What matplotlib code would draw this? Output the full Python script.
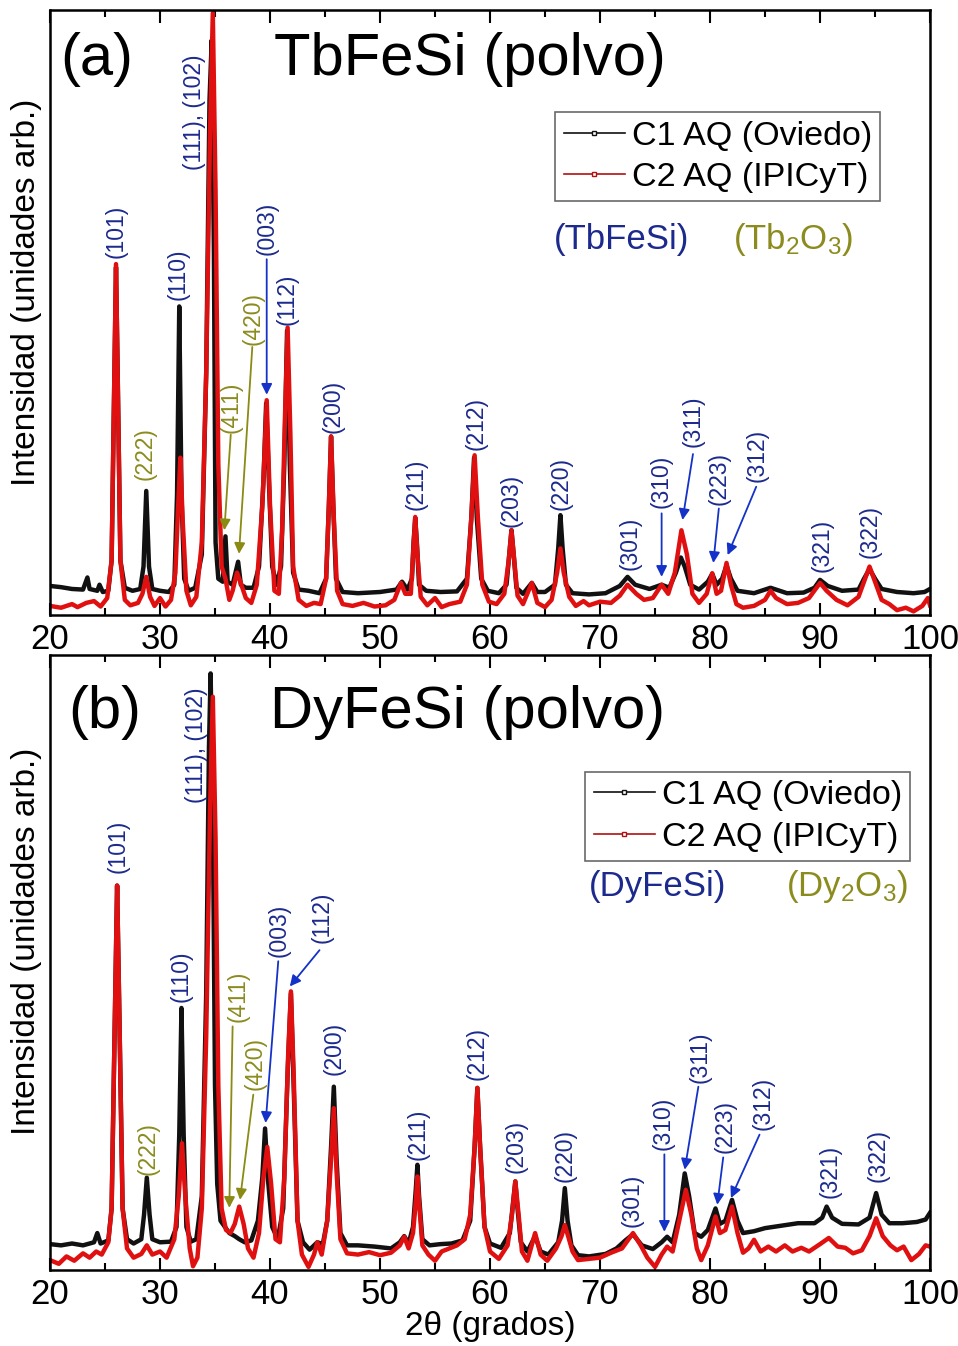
import matplotlib
matplotlib.use('Agg')
import matplotlib.pyplot as plt
from matplotlib.lines import Line2D
from matplotlib.ticker import MultipleLocator
import numpy as np

plt.rcParams['font.family'] = ['Liberation Sans', 'DejaVu Sans']
plt.rcParams['mathtext.fontset'] = 'custom'
plt.rcParams['mathtext.rm'] = 'Liberation Sans'
plt.rcParams['mathtext.it'] = 'Liberation Sans:italic'

# TbFeSi, muestra C1 AQ (Oviedo)
tb_c1 = [(20, 4.8), (21, 4.6), (22, 4.3), (23, 4.2), (23.4, 6.2), (23.6, 4.3), (24.3, 4.0), (24.5, 5.0),
         (24.8, 3.8), (25.3, 4.0), (25.6, 9), (25.85, 40), (26.0, 57.5), (26.15, 40), (26.4, 9), (26.8, 4.5),
         (27.5, 4.0), (28.2, 4.3), (28.5, 8), (28.75, 20.5), (29.0, 8), (29.3, 4.3), (30.0, 4.0), (30.8, 3.8),
         (31.3, 5), (31.55, 20), (31.75, 51), (31.95, 20), (32.2, 6), (32.6, 4), (33.2, 4.5), (33.8, 10),
         (34.2, 40), (34.5, 85), (34.7, 95), (34.9, 60), (35.05, 12), (35.3, 6), (35.7, 5.5), (35.95, 13),
         (36.15, 5.5), (36.6, 5), (37.1, 8.8), (37.35, 5), (37.8, 4.5), (38.5, 4.5), (39.0, 8), (39.4, 22),
         (39.65, 35), (39.9, 22), (40.2, 8), (40.6, 5), (41.0, 8), (41.3, 25), (41.55, 47), (41.8, 25),
         (42.1, 7), (42.6, 4.2), (43.5, 4.0), (44.5, 3.6), (45.1, 6), (45.35, 18), (45.55, 29.5), (45.75, 18),
         (46.0, 6), (46.6, 3.8), (48, 3.6), (50, 3.8), (51.5, 4.2), (52.0, 5.5), (52.5, 4.2), (52.9, 6),
         (53.05, 12), (53.2, 16), (53.35, 12), (53.55, 5), (54.2, 4.0), (55.5, 3.8), (57.0, 3.9), (57.9, 6),
         (58.3, 16), (58.55, 26), (58.8, 16), (59.2, 6), (59.8, 4.0), (60.8, 3.6), (61.5, 5), (61.75, 10),
         (61.95, 14), (62.15, 10), (62.4, 4.5), (63.0, 3.5), (63.8, 5.3), (64.3, 3.8), (65.0, 3.8), (65.9, 5),
         (66.2, 11), (66.4, 16.5), (66.6, 11), (66.9, 5), (67.5, 3.6), (69.0, 3.4), (70.5, 3.6), (71.8, 4.8),
         (72.5, 6.3), (73.2, 5.0), (74.5, 4.3), (75.6, 5.0), (76.3, 4.5), (76.9, 7), (77.35, 9.5), (77.7, 8),
         (78.2, 5), (79.0, 4.2), (79.8, 5.5), (80.2, 6.8), (80.6, 5.0), (81.1, 6), (81.5, 8.2), (81.9, 6),
         (82.5, 4.0), (84.0, 3.6), (85.5, 4.5), (87.0, 3.6), (88.5, 3.7), (89.5, 4.5), (90.0, 5.8), (90.7, 4.8),
         (92.0, 4.0), (93.5, 4.2), (94.0, 6), (94.5, 7.6), (95.0, 6), (95.6, 4.3), (97.0, 3.8), (98.5, 3.6),
         (99.5, 3.8), (100, 4.3)]

# TbFeSi, muestra C2 AQ (IPICyT)
tb_c2 = [(20, 1.5), (21, 1.2), (22, 1.8), (22.5, 1.3), (23.3, 2.0), (24.0, 2.3), (24.6, 1.4), (25.2, 2.8),
         (25.6, 9), (25.85, 40), (26.0, 58), (26.15, 40), (26.4, 9), (26.8, 2.5), (27.3, 1.6), (28.0, 2.0),
         (28.4, 3.5), (28.75, 6.3), (29.1, 3.0), (29.5, 1.5), (30.0, 2.8), (30.5, 1.4), (31.0, 2.5), (31.4, 7),
         (31.65, 18), (31.85, 26), (32.05, 16), (32.4, 4), (32.8, 1.6), (33.3, 3), (33.8, 12), (34.2, 40),
         (34.55, 80), (34.8, 99.5), (35.05, 70), (35.3, 25), (35.6, 8), (35.95, 6), (36.3, 2.5), (36.6, 4),
         (37.0, 7), (37.3, 5.5), (37.8, 2.8), (38.3, 2.0), (38.8, 5), (39.3, 18), (39.7, 35.5), (40.0, 18),
         (40.4, 4), (40.8, 3.5), (41.1, 14), (41.35, 32), (41.6, 47.5), (41.85, 30), (42.1, 8), (42.6, 2.5),
         (43.3, 1.5), (44.0, 2.0), (44.6, 1.8), (45.1, 6), (45.35, 18), (45.55, 29.5), (45.8, 16), (46.1, 4),
         (46.6, 1.8), (47.5, 1.5), (48.5, 2.0), (49.5, 1.4), (50.5, 1.6), (51.3, 2.5), (51.9, 5.3), (52.3, 3.5),
         (52.8, 3.5), (53.0, 10), (53.2, 16.2), (53.4, 10), (53.7, 3), (54.3, 1.6), (55.0, 2.8), (55.6, 1.3),
         (56.3, 1.8), (57.3, 2.2), (57.9, 5), (58.3, 16), (58.6, 26.4), (58.9, 16), (59.3, 5), (59.9, 2.2),
         (60.6, 1.8), (61.3, 3.5), (61.7, 9), (61.95, 14), (62.2, 9), (62.5, 3.2), (63.0, 1.8), (63.8, 5.3),
         (64.3, 2.0), (65.0, 1.3), (65.6, 2.5), (66.1, 7), (66.4, 11), (66.7, 7), (67.2, 3.0), (67.8, 1.5),
         (68.5, 2.3), (69.0, 1.6), (70.0, 2.2), (71.0, 2.0), (71.8, 3.2), (72.5, 5.0), (73.3, 3.5), (74.0, 2.5),
         (74.8, 2.8), (75.6, 5.0), (76.2, 3.5), (76.8, 7), (77.4, 14), (77.9, 10), (78.4, 3.5), (79.0, 2.0),
         (79.7, 3.5), (80.2, 6.9), (80.6, 3.5), (81.0, 4.0), (81.5, 8.6), (81.9, 5), (82.4, 1.8), (83.0, 1.2),
         (84.0, 1.5), (85.0, 2.5), (85.5, 4.0), (86.0, 2.8), (87.0, 1.8), (88.0, 2.0), (89.0, 2.8), (90.0, 5.3),
         (90.6, 4.0), (91.5, 2.5), (92.5, 1.6), (93.5, 3.0), (94.0, 5.5), (94.5, 8.0), (95.0, 5.5), (95.6, 2.5),
         (96.3, 1.8), (97.0, 0.8), (97.8, 1.2), (98.5, 0.6), (99.3, 1.5), (99.8, 2.8), (100, 1.6)]

# DyFeSi, muestra C1 AQ (Oviedo)
dy_c1 = [(20, 4.2), (21, 4.0), (22, 4.3), (23, 4.0), (24, 4.5), (24.3, 6), (24.6, 4.3), (25.3, 4.8),
         (25.6, 10), (25.9, 42), (26.1, 62.5), (26.3, 42), (26.6, 10), (27.0, 5), (27.6, 4.3), (28.3, 5),
         (28.55, 9), (28.8, 15), (29.05, 9), (29.3, 5), (30.0, 4.5), (31.0, 4.6), (31.5, 7), (31.75, 22),
         (31.95, 42.6), (32.15, 22), (32.4, 7), (32.8, 4.6), (33.3, 5), (33.8, 12), (34.2, 45), (34.45, 85),
         (34.6, 97), (34.8, 75), (35.0, 30), (35.2, 14), (35.5, 8), (35.9, 7), (36.3, 6.0), (36.8, 5.5),
         (37.2, 5.0), (37.7, 4.5), (38.3, 4.8), (38.9, 8), (39.3, 15), (39.55, 23), (39.8, 15), (40.2, 7),
         (40.7, 5.0), (41.2, 10), (41.6, 32), (41.9, 45), (42.15, 30), (42.5, 8), (43.0, 4.5), (43.6, 3.3),
         (44.3, 4.5), (44.8, 4.2), (45.2, 8), (45.55, 20), (45.8, 29.8), (46.05, 18), (46.4, 6), (47.0, 4.0),
         (48.0, 4.0), (49.5, 3.8), (51.0, 3.5), (51.8, 4.5), (52.2, 5.5), (52.6, 4.3), (53.0, 7), (53.25, 13),
         (53.4, 17.1), (53.55, 12), (53.85, 5), (54.5, 4.0), (55.5, 4.2), (56.5, 4.3), (57.5, 4.8), (58.2, 8),
         (58.6, 20), (58.85, 29.6), (59.1, 20), (59.5, 7), (60.0, 4.3), (61.0, 3.6), (61.8, 6), (62.1, 11),
         (62.3, 14.4), (62.5, 10), (62.8, 4.5), (63.4, 3.0), (64.1, 5.5), (64.6, 3.0), (65.3, 2.5), (66.2, 4.5),
         (66.55, 8), (66.8, 13.3), (67.05, 8), (67.4, 4), (68.0, 2.4), (69.0, 2.2), (70.5, 2.6), (71.5, 3.5),
         (72.3, 4.8), (73.0, 5.8), (73.8, 4.0), (74.8, 3.4), (75.6, 4.5), (76.1, 5.4), (76.6, 4.5), (77.2, 9),
         (77.7, 15.7), (78.1, 12), (78.6, 6), (79.2, 5.4), (79.8, 6.5), (80.5, 10), (80.9, 7.5), (81.4, 8),
         (82.0, 11.4), (82.5, 8), (83.0, 6.0), (84.0, 6.3), (85.0, 6.8), (86.5, 7.2), (88.0, 7.6), (89.5, 7.6),
         (90.2, 8.5), (90.6, 10.3), (91.1, 8.5), (92.0, 7.5), (93.5, 7.4), (94.5, 8.5), (95.1, 12.5), (95.6, 9),
         (96.3, 7.6), (97.5, 7.6), (98.8, 7.8), (99.6, 8.2), (100, 9.3)]

# DyFeSi, muestra C2 AQ (IPICyT)
dy_c2 = [(20, 1.6), (20.8, 1.0), (21.5, 2.2), (22.2, 1.5), (23.0, 2.7), (23.6, 2.0), (24.2, 3.0), (24.7, 2.5),
         (25.3, 4.5), (25.6, 10), (25.9, 42), (26.1, 62.5), (26.3, 42), (26.6, 10), (27.0, 3.5), (27.6, 2.0),
         (28.3, 2.6), (28.8, 4.0), (29.3, 2.5), (30.0, 3.0), (30.6, 2.0), (31.3, 5), (31.7, 12), (32.0, 20.6),
         (32.3, 12), (32.7, 3.5), (33.0, 0.6), (33.4, 2.0), (33.8, 10), (34.2, 38), (34.55, 75), (34.8, 93.2),
         (35.05, 70), (35.3, 30), (35.6, 10), (36.0, 6.5), (36.4, 6.0), (36.8, 7.5), (37.2, 10.3), (37.6, 7.5),
         (38.0, 3.5), (38.5, 2.0), (39.0, 6), (39.4, 15), (39.75, 20), (40.1, 14), (40.5, 5), (40.9, 4.5),
         (41.3, 15), (41.65, 35), (41.9, 45.3), (42.15, 32), (42.5, 8), (42.9, 2.5), (43.5, 0.5), (44.0, 2.5),
         (44.3, 4.5), (44.7, 2.5), (45.2, 8), (45.55, 18), (45.8, 26.3), (46.05, 16), (46.4, 5), (47.0, 2.7),
         (48.0, 2.5), (49.0, 2.9), (50.0, 2.4), (51.0, 2.8), (51.8, 4), (52.2, 5.4), (52.6, 3.5), (53.0, 6),
         (53.25, 11), (53.4, 15.2), (53.55, 11), (53.85, 4), (54.4, 2.5), (55.0, 1.5), (55.6, 3.0), (56.3, 3.5),
         (57.0, 4.0), (57.7, 5), (58.2, 9), (58.6, 20), (58.85, 29.6), (59.1, 20), (59.5, 7), (60.0, 3.0),
         (60.8, 1.8), (61.6, 4), (62.0, 9), (62.3, 14.4), (62.6, 9), (62.9, 3.0), (63.4, 1.5), (64.1, 6.0),
         (64.6, 2.5), (65.2, 1.5), (66.0, 3.5), (66.5, 5.5), (66.8, 7.3), (67.1, 5.5), (67.5, 3.0), (68.0, 1.6),
         (69.0, 1.8), (70.0, 2.0), (71.0, 2.8), (72.0, 3.5), (73.0, 6.0), (73.7, 4.0), (74.3, 2.0), (75.0, 0.5),
         (75.6, 2.5), (76.1, 3.8), (76.6, 3.0), (77.2, 8), (77.8, 13), (78.3, 9), (78.8, 3.5), (79.2, 1.6),
         (79.8, 4), (80.5, 8.7), (80.9, 6.0), (81.4, 6.5), (82.0, 10.3), (82.5, 6.0), (83.0, 2.8), (83.5, 3.5),
         (84.0, 4.9), (84.6, 3.0), (85.3, 3.8), (86.0, 3.0), (86.8, 4.0), (87.5, 3.0), (88.3, 3.6), (89.0, 3.0),
         (90.0, 4.2), (90.8, 5.2), (91.6, 3.8), (92.3, 3.6), (93.0, 2.7), (93.8, 3.2), (94.5, 5.5), (95.1, 8.4),
         (95.7, 5.5), (96.4, 4.0), (97.0, 3.2), (97.6, 3.8), (98.3, 1.6), (99.0, 2.6), (99.6, 4.0), (100, 3.8)]

# indices de Miller y fase a la que pertenecen (0 = RFeSi, 1 = oxido R2O3)
hkl = ['(101)', '(222)', '(110)', '(111), (102)', '(411)', '(420)', '(003)', '(112)', '(200)', '(211)',
       '(212)', '(203)', '(220)', '(301)', '(310)', '(311)', '(223)', '(312)', '(321)', '(322)']
fase = [0, 1, 0, 0, 1, 1, 0, 0, 0, 0, 0, 0, 0, 0, 0, 0, 0, 0, 0, 0]

series = ['C1 AQ (Oviedo)', 'C2 AQ (IPICyT)']

# posicion de cada etiqueta (2theta, intensidad del pie del texto)
tb_lab_x = [26.0, 28.64, 31.64, 33.18, 36.45, 38.45, 39.73, 41.55, 45.73, 53.27,
            58.73, 61.9, 66.45, 72.7, 75.6, 78.45, 80.8, 84.27, 90.18, 94.55]
tb_lab_y = [59, 22.3, 52, 73.5, 30.1, 44.6, 59.5, 47.9, 30, 17.4,
            27.3, 14.5, 17.4, 7.4, 17.7, 27.8, 18.2, 22, 7.1, 9.4]
dy_lab_x = [26.2, 28.9, 31.9, 33.3, 37.12, 38.64, 40.8, 44.7, 45.82, 53.43,
            58.82, 62.36, 66.82, 72.88, 75.76, 79.09, 81.36, 84.85, 90.9, 95.3]
dy_lab_y = [64.6, 15.4, 43.6, 75.9, 40.3, 29.3, 50.9, 53.2, 31.7, 17.9,
            30.9, 15.8, 14.3, 7.0, 19.5, 30.4, 19.0, 22.8, 11.7, 14.3]

# flechas: etiqueta -> (desde, hasta)
tb_flechas = {'(411)': ((36.43, 29.8), (35.85, 14.0)),
              '(420)': ((38.39, 44.3), (37.18, 10.1)),
              '(003)': ((39.7, 58.8), (39.7, 36.4)),
              '(310)': ((75.6, 16.8), (75.6, 6.3)),
              '(311)': ((78.45, 26.6), (77.5, 15.7)),
              '(223)': ((80.8, 17.6), (80.3, 8.6)),
              '(312)': ((84.2, 21.2), (81.6, 9.9))}
dy_flechas = {'(411)': ((36.6, 39.6), (36.3, 10.1)),
              '(420)': ((38.48, 28.5), (37.27, 11.4)),
              '(003)': ((40.75, 50.2), (39.6, 23.9)),
              '(112)': ((44.5, 52.0), (41.8, 46.1)),
              '(310)': ((75.85, 18.8), (75.85, 6.2)),
              '(311)': ((78.94, 29.8), (77.7, 16.3)),
              '(223)': ((81.2, 18.3), (80.66, 10.6)),
              '(312)': ((84.5, 22.0), (81.9, 11.7))}

col_c1 = '#111111'
col_c2 = '#e01010'
col_texto = ['#1b2a8c', '#8b8b1e']
col_flecha = ['#1432c8', '#8a8a14']


def dibujar(ax, c1, c2, lab_x, lab_y, flechas, letra, titulo, pos_titulo, fases, pos_fases, pos_leyenda):
    c1 = np.array(c1)
    c2 = np.array(c2)
    ax.plot(c1[:, 0], c1[:, 1], color=col_c1, lw=3.2, solid_joinstyle='round')
    ax.plot(c2[:, 0], c2[:, 1], color=col_c2, lw=3.2, solid_joinstyle='round')

    for i, t in enumerate(hkl):
        ax.text(lab_x[i], lab_y[i], t, rotation=90, ha='center', va='bottom',
                fontsize=16.5, color=col_texto[fase[i]])
    for t, (p0, p1) in flechas.items():
        f = fase[hkl.index(t)]
        ax.annotate('', xy=p1, xytext=p0,
                    arrowprops=dict(arrowstyle='-|>', color=col_flecha[f], lw=1.3,
                                    mutation_scale=16, shrinkA=0, shrinkB=0))

    ax.text(pos_titulo[0], pos_titulo[2], letra, transform=ax.transAxes, fontsize=43, va='center')
    ax.text(pos_titulo[1], pos_titulo[2], titulo, transform=ax.transAxes, fontsize=43, va='center')
    ax.text(pos_fases[0], pos_fases[2], fases[0], transform=ax.transAxes, fontsize=25,
            va='center', color=col_texto[0])
    ax.text(pos_fases[1], pos_fases[2], fases[1], transform=ax.transAxes, fontsize=25,
            va='center', color=col_texto[1])

    h = [Line2D([0], [0], color=col_c1, lw=1.2, marker='s', ms=3, mfc='white'),
         Line2D([0], [0], color='#b01010', lw=1.2, marker='s', ms=3, mfc='white')]
    leg = ax.legend(h, series, loc='upper left', bbox_to_anchor=pos_leyenda, borderaxespad=0,
                    fontsize=24.5, frameon=True, fancybox=False, edgecolor='#444444',
                    handlelength=1.8, handletextpad=0.2, borderpad=0.25, labelspacing=0.3,
                    numpoints=1)
    leg.get_frame().set_linewidth(1.2)

    ax.set_xlim(20, 100)
    ax.set_ylim(0, 100)
    ax.xaxis.set_major_locator(MultipleLocator(10))
    ax.xaxis.set_minor_locator(MultipleLocator(5))
    ax.tick_params(axis='x', which='both', direction='in', top=True, labelsize=25, pad=6, width=1.5)
    ax.tick_params(axis='x', which='major', length=9)
    ax.tick_params(axis='x', which='minor', length=5)
    ax.set_yticks([])
    for s in ax.spines.values():
        s.set_linewidth(1.8)
    ax.set_ylabel('Intensidad (unidades arb.)', fontsize=24)
    ax.yaxis.set_label_coords(-0.009, 0.534)


fig = plt.figure(figsize=(9.58, 13.46), dpi=100)
ax_a = fig.add_axes([0.0522, 0.5431, 0.9186, 0.4495])
ax_b = fig.add_axes([0.0522, 0.0565, 0.9186, 0.4569])

dibujar(ax_a, tb_c1, tb_c2, tb_lab_x, tb_lab_y, tb_flechas, '(a)', 'TbFeSi (polvo)',
        (0.012, 0.254, 0.918), ['(TbFeSi)', r'(Tb$_2$O$_3$)'], (0.572, 0.776, 0.62), (0.574, 0.831))
dibujar(ax_b, dy_c1, dy_c2, dy_lab_x, dy_lab_y, dy_flechas, '(b)', 'DyFeSi (polvo)',
        (0.021, 0.25, 0.907), ['(DyFeSi)', r'(Dy$_2$O$_3$)'], (0.612, 0.836, 0.624), (0.608, 0.81))

ax_b.set_xlabel('2θ (grados)', fontsize=24)
ax_b.xaxis.set_label_coords(0.5, -0.066)

fig.savefig('out.png', dpi=100)
